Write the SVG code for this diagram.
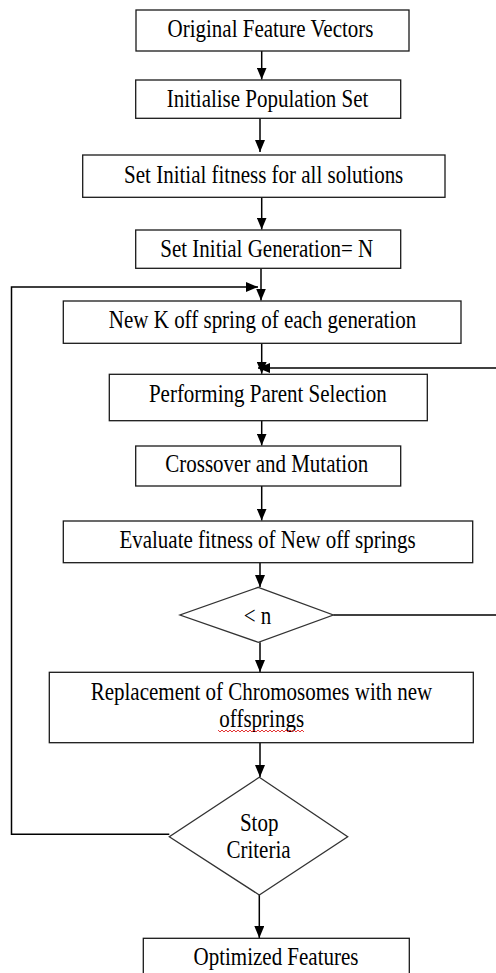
<svg xmlns="http://www.w3.org/2000/svg" width="496" height="973" viewBox="0 0 496 973">
<style>
.box{fill:#fff;stroke:#1a1a1a;stroke-width:1.3}
.dia{fill:#fff;stroke:#333;stroke-width:1.3}
.t{font-family:"Liberation Serif","Times New Roman",serif;font-size:21px;fill:#000;text-anchor:middle}
.c{fill:none;stroke:#000;stroke-width:1.5}
</style>
<defs>
<marker id="ah" viewBox="0 0 12 10" refX="12" refY="5" markerWidth="12" markerHeight="10" markerUnits="userSpaceOnUse" orient="auto">
<path d="M0,0 L12,5 L0,10 z" fill="#000"/>
</marker>
</defs>
<rect width="496" height="973" fill="#fff"/>
<g id="connectors">
<line class="c" x1="261.7" y1="51" x2="261.7" y2="79.5" marker-end="url(#ah)"/>
<line class="c" x1="260" y1="118.3" x2="260" y2="152" marker-end="url(#ah)"/>
<line class="c" x1="261.7" y1="197.3" x2="261.7" y2="229.5" marker-end="url(#ah)"/>
<line class="c" x1="261" y1="268.3" x2="261" y2="300.5" marker-end="url(#ah)"/>
<path class="c" d="M169.3,834.3 H11.5 V287 H258" marker-end="url(#ah)"/>
<line class="c" x1="261.7" y1="343.3" x2="261.7" y2="373.8" marker-end="url(#ah)"/>
<path class="c" d="M496,368 H258" marker-end="url(#ah)"/>
<line class="c" x1="261.7" y1="420.7" x2="261.7" y2="445.5" marker-end="url(#ah)"/>
<line class="c" x1="261.7" y1="486" x2="261.7" y2="520.5" marker-end="url(#ah)"/>
<line class="c" x1="260" y1="562.7" x2="260" y2="587" marker-end="url(#ah)"/>
<path class="c" d="M333.3,615 H496"/>
<line class="c" x1="260" y1="642.3" x2="260" y2="672" marker-end="url(#ah)"/>
<line class="c" x1="260" y1="742.7" x2="260" y2="777" marker-end="url(#ah)"/>
<line class="c" x1="259.3" y1="895" x2="259.3" y2="938" marker-end="url(#ah)"/>
</g>
<g id="n1"><rect class="box" x="136" y="10" width="273" height="41"/>
<text class="t" transform="translate(270.5,37.3) scale(1,1.22)">Original Feature Vectors</text></g>
<g id="n2"><rect class="box" x="135.7" y="80" width="265" height="38.3"/>
<text class="t" transform="translate(267.5,106.7) scale(1,1.22)">Initialise Population Set</text></g>
<g id="n3"><rect class="box" x="82.7" y="155" width="362.3" height="42.3"/>
<text class="t" transform="translate(263.7,183.3) scale(1,1.22)">Set Initial fitness for all solutions</text></g>
<g id="n4"><rect class="box" x="135.7" y="230" width="265" height="38.3"/>
<text class="t" transform="translate(266.7,256.7) scale(1,1.22)">Set Initial Generation= N</text></g>
<g id="n5"><rect class="box" x="63.3" y="301" width="397.7" height="42.3"/>
<text class="t" transform="translate(262.5,328.3) scale(1,1.22)">New K off spring of each generation</text></g>
<g id="n6"><rect class="box" x="109.3" y="374.3" width="318" height="46.4"/>
<text class="t" transform="translate(267.8,401.7) scale(1,1.22)">Performing Parent Selection</text></g>
<g id="n7"><rect class="box" x="135.7" y="446" width="265" height="40"/>
<text class="t" transform="translate(266.7,471.7) scale(1,1.22)">Crossover and Mutation</text></g>
<g id="n8"><rect class="box" x="63.3" y="521" width="409.4" height="41.7"/>
<text class="t" transform="translate(267.5,548.3) scale(1,1.22)">Evaluate fitness of New off springs</text></g>
<g id="n9"><polygon class="dia" points="258.3,587.3 333.3,615 258.3,642.3 180,615"/>
<text class="t" transform="translate(257.5,624) scale(1,1.22)">&lt; n</text></g>
<g id="n10"><rect class="box" x="49.3" y="672.3" width="424" height="70.4"/>
<text class="t" transform="translate(261.5,700) scale(1,1.22)">Replacement of Chromosomes with new</text>
<text class="t" transform="translate(261.7,727) scale(1,1.22)">offsprings</text>
<path d="M218,730 l2,2 l2,-2 l2,2 l2,-2 l2,2 l2,-2 l2,2 l2,-2 l2,2 l2,-2 l2,2 l2,-2 l2,2 l2,-2 l2,2 l2,-2 l2,2 l2,-2 l2,2 l2,-2 l2,2 l2,-2 l2,2 l2,-2 l2,2 l2,-2 l2,2 l2,-2 l2,2 l2,-2 l2,2 l2,-2 l2,2 l2,-2 l2,2 l2,-2 l2,2 l2,-2 l2,2 l2,-2 l2,2 l2,-2 l2,2" fill="none" stroke="#e02020" stroke-width="0.9"/></g>
<g id="n11"><polygon class="dia" points="259.3,777.3 347.7,836.7 259.3,895 169.3,836.7"/>
<text class="t" transform="translate(259.2,831) scale(1,1.22)">Stop</text>
<text class="t" transform="translate(258.5,857.7) scale(1,1.22)">Criteria</text></g>
<g id="n12"><rect class="box" x="143.3" y="938.3" width="266" height="50"/>
<text class="t" transform="translate(276,965) scale(1,1.22)">Optimized Features</text></g>
</svg>
